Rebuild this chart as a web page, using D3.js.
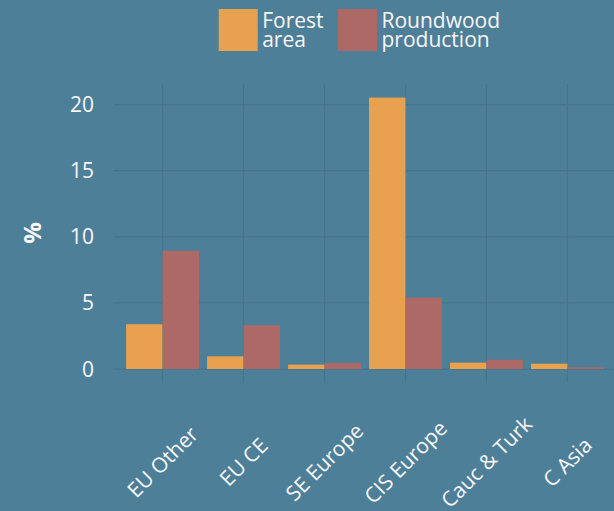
<!DOCTYPE html>
<html>
<head>
<meta charset="utf-8">
<script src="https://cdn.jsdelivr.net/npm/d3@7"></script>
<style>
  html, body { margin: 0; padding: 0; background: #4e7f99; }
  text { font-family: "Open Sans", sans-serif; fill: #f7f7f7; }
</style>
</head>
<body>
<script>
// data
const regions = ["EU Other", "EU CE", "SE Europe", "CIS Europe", "Cauc & Turk", "C Asia"];
const series = ["Forest area", "Roundwood production"];
const forestArea = [3.39, 0.96, 0.33, 20.53, 0.48, 0.40];
const roundwood = [8.94, 3.31, 0.45, 5.40, 0.70, 0.13];
const yTicks = [0, 5, 10, 15, 20];

const colors = { "Forest area": "#e8a24f", "Roundwood production": "#ad6966" };

const width = 614, height = 511;
const panel = { left: 114, right: 616, top: 84, bottom: 382.6 };

const svg = d3.select("body").append("svg")
    .attr("width", width)
    .attr("height", height);

svg.append("rect").attr("width", width).attr("height", height).attr("fill", "#4e7f99");

const x = d3.scaleBand()
    .domain(regions)
    .range([panel.left, panel.right])
    .paddingInner(0)
    .paddingOuter(0.1);

const xInner = d3.scaleBand()
    .domain(series)
    .range([0.05 * x.bandwidth(), 0.95 * x.bandwidth()]);

// 5% expansion like ggplot
const yMax = d3.max(forestArea.concat(roundwood));
const y = d3.scaleLinear()
    .domain([-0.05 * yMax, yMax * 1.05])
    .range([panel.bottom, panel.top]);

const gridColor = "#46748d";

// grid
svg.append("g").selectAll("line.h")
    .data(yTicks).enter().append("line")
    .attr("x1", panel.left).attr("x2", panel.right)
    .attr("y1", d => y(d)).attr("y2", d => y(d))
    .attr("stroke", gridColor).attr("stroke-width", 1.2);

svg.append("g").selectAll("line.v")
    .data(regions).enter().append("line")
    .attr("x1", d => x(d) + x.bandwidth() / 2).attr("x2", d => x(d) + x.bandwidth() / 2)
    .attr("y1", panel.top).attr("y2", panel.bottom)
    .attr("stroke", gridColor).attr("stroke-width", 1.2);

// bars
const rows = regions.map((r, i) => ({ region: r, values: [
    { key: "Forest area", value: forestArea[i] },
    { key: "Roundwood production", value: roundwood[i] }
] }));

svg.append("g").selectAll("g")
    .data(rows).enter().append("g")
    .attr("transform", d => `translate(${x(d.region)},0)`)
    .selectAll("rect")
    .data(d => d.values).enter().append("rect")
    .attr("x", d => xInner(d.key))
    .attr("width", xInner.bandwidth())
    .attr("y", d => y(d.value))
    .attr("height", d => y(0) - y(d.value))
    .attr("fill", d => colors[d.key]);

// y tick labels
svg.append("g").selectAll("text")
    .data(yTicks).enter().append("text")
    .attr("x", 94)
    .attr("y", d => y(d))
    .attr("dy", "0.36em")
    .attr("text-anchor", "end")
    .attr("font-size", 21)
    .text(d => d);

// x labels rotated
svg.append("g").selectAll("text")
    .data(regions).enter().append("text")
    .attr("transform", d => `translate(${x(d) + x.bandwidth() / 2},462) rotate(-45)`)
    .attr("text-anchor", "middle")
    .attr("dy", "0.36em")
    .attr("font-size", 21)
    .text(d => d);

// y title
svg.append("text")
    .attr("transform", "translate(32,233) rotate(-90)")
    .attr("text-anchor", "middle")
    .attr("dy", "0.36em")
    .attr("font-size", 24)
    .attr("font-weight", "bold")
    .text("%");

// legend
const legendItems = [
    { key: "Forest area", lines: ["Forest", "area"], x: 218.7 },
    { key: "Roundwood production", lines: ["Roundwood", "production"], x: 338 }
];
const lg = svg.append("g").selectAll("g")
    .data(legendItems).enter().append("g")
    .attr("transform", d => `translate(${d.x},9)`);
lg.append("rect")
    .attr("width", 39).attr("height", 42)
    .attr("fill", d => colors[d.key]);
lg.each(function(d) {
    const t = d3.select(this).append("text")
        .attr("x", 43.5)
        .attr("font-size", 21);
    d.lines.forEach((l, i) => {
        t.append("tspan").attr("x", 43.5).attr("y", 18.5 + i * 19.5).text(l);
    });
});
</script>
</body>
</html>
